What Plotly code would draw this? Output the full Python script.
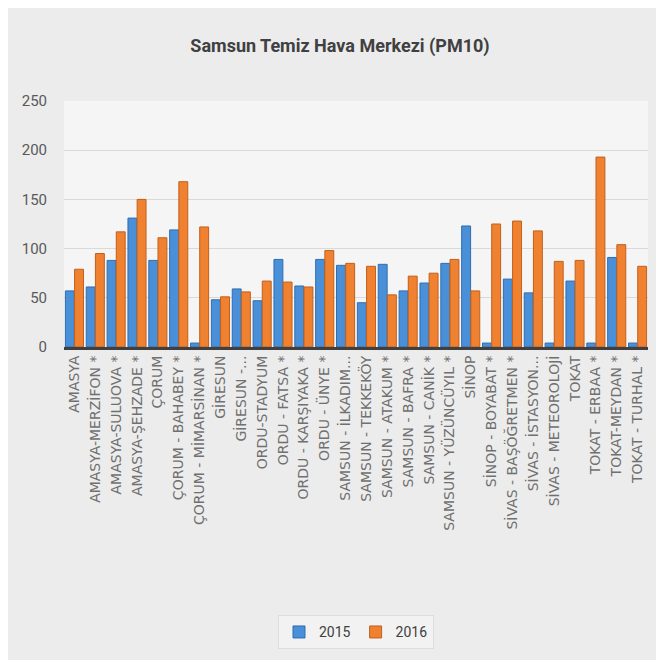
import plotly.graph_objects as go

# istasyonlar (x ekseni)
stations = [
    'AMASYA', 'AMASYA-MERZİFON *', 'AMASYA-SULUOVA *', 'AMASYA-ŞEHZADE *',
    'ÇORUM', 'ÇORUM - BAHABEY *', 'ÇORUM - MİMARSİNAN *', 'GİRESUN',
    'GİRESUN -...', 'ORDU-STADYUM', 'ORDU - FATSA *', 'ORDU - KARŞIYAKA *',
    'ORDU - ÜNYE *', 'SAMSUN - İLKADIM...', 'SAMSUN - TEKKEKÖY', 'SAMSUN - ATAKUM *',
    'SAMSUN - BAFRA *', 'SAMSUN - CANİK *', 'SAMSUN - YÜZÜNCÜYIL *', 'SİNOP',
    'SİNOP - BOYABAT *', 'SİVAS - BAŞÖĞRETMEN *', 'SİVAS - İSTASYON...', 'SİVAS - METEOROLOJİ',
    'TOKAT', 'TOKAT - ERBAA *', 'TOKAT-MEYDAN *', 'TOKAT - TURHAL *',
]

pm10_2015 = [57, 61, 88, 131, 88, 119, 4, 48, 59, 47, 89, 62, 89, 83,
             45, 84, 57, 65, 85, 123, 4, 69, 55, 4, 67, 4, 91, 4]
pm10_2016 = [79, 95, 117, 150, 111, 168, 122, 51, 56, 67, 66, 61, 98, 85,
             82, 53, 72, 75, 89, 57, 125, 128, 118, 87, 88, 193, 104, 82]

fig = go.Figure()

fig.add_trace(go.Bar(
    x=stations, y=pm10_2015, name='2015',
    marker=dict(color='#4a90d9', line=dict(color='#2f6db0', width=1)),
))
fig.add_trace(go.Bar(
    x=stations, y=pm10_2016, name='2016',
    marker=dict(color='#f08131', line=dict(color='#c0601c', width=1)),
))

fig.update_layout(
    width=664, height=660,
    barmode='group', bargap=0.12, bargroupgap=0.03,
    paper_bgcolor='#ececec', plot_bgcolor='#f5f5f5',
    margin=dict(l=56, r=24, t=93, b=321),
    title=dict(text='<b>Samsun Temiz Hava Merkezi (PM10)</b>', x=0.5, xanchor='center',
               y=0.943, yanchor='middle',
               font=dict(family='Roboto, sans-serif', size=18, color='#404040')),
    font=dict(family='DejaVu Sans, sans-serif', color='#595959'),
    legend=dict(orientation='h', x=0.5, xanchor='center', y=-1.16, yanchor='middle',
                bgcolor='#f2f2f2', bordercolor='#dddddd', borderwidth=1,
                itemwidth=30, font=dict(family='Roboto, sans-serif', size=14, color='#404040')),
    showlegend=True,
)

fig.update_xaxes(
    tickangle=-90, tickfont=dict(size=14, color='#707070'),
    showline=True, linecolor='#404040', linewidth=3,
    showgrid=False, ticks='',
)
fig.update_yaxes(
    range=[0, 250], dtick=50, tickfont=dict(family='Roboto, sans-serif',
                                            size=15, color='#595959'),
    showgrid=True, gridcolor='#d9d9d9', gridwidth=1, zeroline=False,
    ticks='', ticklabelstandoff=16,
)

fig.write_html('out.html')
